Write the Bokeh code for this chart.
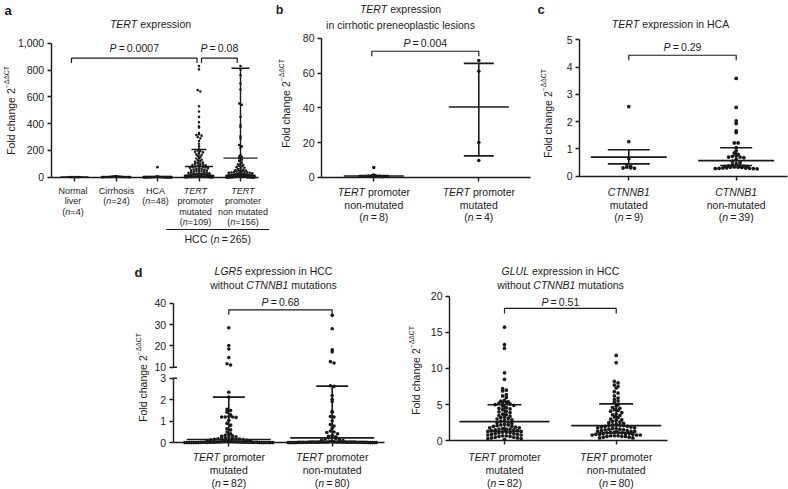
import math
from bokeh.plotting import figure
from bokeh.layouts import row, column
from bokeh.models import Label, FixedTicker, NumeralTickFormatter, Range1d
from bokeh.embed import file_html
from bokeh.resources import INLINE

# ===================== DATA =====================
# ---- panel a : TERT expression ----
a_cats = [1, 2, 3, 4, 5]
a_normal = [1.5, 1.0, 0.8, 0.5]
a_cirrhosis = [8, 6, 5, 4.5, 4, 3.5, 3, 3, 2.5, 2.5, 2, 2, 2, 1.5, 1.5, 1.5, 1.2, 1, 1, 1, 0.8, 0.6, 0.5, 0.4]
a_hca = [75, 4.0, 3.5, 3.0, 2.8, 2.5, 2.2, 2.0, 2.0, 1.8, 1.6, 1.5, 1.4, 1.3, 1.2, 1.2, 1.1, 1.0, 1.0, 0.9,
         0.9, 0.8, 0.8, 0.8, 0.7, 0.7, 0.7, 0.6, 0.6, 0.6, 0.5, 0.5, 0.5, 0.5, 0.4, 0.4, 0.4, 0.4, 0.3, 0.3,
         0.3, 0.3, 0.3, 0.2, 0.2, 0.2, 0.2, 0.2]
a_tert_mut = [830, 805, 650, 640, 530, 490, 450, 410, 380, 370,
              330, 320, 315, 310, 300, 290, 270, 250, 230, 210,
              200, 195, 190, 185, 180, 170, 165, 160, 150, 145,
              140, 130, 125, 120, 115, 110, 105, 100, 100, 95,
              90, 88, 85, 82, 80, 78, 75, 72, 70, 68,
              65, 62, 60, 58, 55, 52, 50, 48, 45, 42,
              40, 38, 36, 34, 32, 30, 28, 26, 24, 22,
              20, 19, 18, 17, 16, 15, 14, 13, 12, 11,
              10, 9, 8, 7, 6, 5, 5, 4, 4, 3,
              3, 3, 2, 2, 2, 2, 1, 1, 1, 1,
              1, 1, 0.5, 0.5, 0.5, 0.5, 0.5, 0.5, 0.5]
a_tert_non = [830, 805, 760, 700, 655, 550, 540, 450, 390, 375,
              305, 290, 240, 230, 220, 165, 155, 150, 140, 130,
              120, 110, 100, 95, 90, 85, 80, 75, 70, 65,
              60, 55, 52, 50, 48, 45, 42, 40, 38, 36,
              35, 33, 32, 30, 29, 28, 27, 26, 25, 24,
              23, 22, 21, 20, 20, 19, 18, 18, 17, 16,
              16, 15, 15, 14, 14, 13, 13, 12, 12, 11,
              11, 10, 10, 10, 9, 9, 9, 8, 8, 8,
              7, 7, 7, 7, 6, 6, 6, 6, 5, 5,
              5, 5, 5, 4, 4, 4, 4, 4, 3.5, 3.5,
              3.5, 3.5, 3, 3, 3, 3, 3, 2.5, 2.5, 2.5,
              2.5, 2.5, 2, 2, 2, 2, 2, 2, 1.8, 1.8,
              1.6, 1.6, 1.5, 1.5, 1.4, 1.4, 1.3, 1.2, 1.2, 1.1,
              1.0, 1.0, 1.0, 0.9, 0.9, 0.9, 0.8, 0.8, 0.8, 0.7,
              0.7, 0.7, 0.6, 0.6, 0.6, 0.5, 0.5, 0.5, 0.4, 0.4,
              0.4, 0.3, 0.3, 0.3, 0.2, 0.2]
a_center = [1.0, 2.5, 1.5, 80, 142]
a_low = [0.5, 1.5, 1.0, 25, 5]
a_high = [1.5, 3.5, 2.0, 207, 813]
a_yticks = [0, 200, 400, 600, 800, 1000]
a_brackets = [(1, 4, 889), (4, 5, 889)]
a_pvalues = ["0.0007", "0.08"]

# ---- panel b : cirrhotic preneoplastic lesions ----
b_cats = [1, 2]
b_non = [5.6, 1.2, 0.9, 0.8, 0.6, 0.5, 0.4, 0.3]
b_mut = [67.2, 61.0, 20.0, 9.6]
b_center = [0.7, 40.5]
b_low = [0.5, 12.3]
b_high = [0.9, 65.6]
b_yticks = [0, 20, 40, 60, 80]
b_bracket = 72.6
b_pvalue = "0.004"

# ---- panel c : TERT expression in HCA ----
c_cats = [1, 2]
c_mut = [2.55, 1.27, 0.65, 0.42, 0.36, 0.33, 0.3, 0.29, 0.31]
c_non = [3.58, 2.52, 2.03, 1.93, 1.66, 1.6, 1.22, 1.22, 1.05,
         0.93, 0.85, 0.8, 0.75, 0.73, 0.7, 0.7, 0.68, 0.62, 0.55,
         0.5, 0.45, 0.42, 0.4, 0.38, 0.37, 0.36, 0.35, 0.34, 0.33,
         0.33, 0.32, 0.31, 0.3, 0.3, 0.29, 0.29, 0.28, 0.28, 0.27]
c_center = [0.70, 0.57]
c_low = [0.45, 0.39]
c_high = [0.97, 1.04]
c_yticks = [0, 1, 2, 3, 4, 5]
c_bracket = 4.43
c_pvalue = "0.29"

# ---- panel d left : LGR5 (broken axis) ----
d_cats = [1, 2]
lgr5_mut = [28.5, 20.2, 18.5, 14.5, 11.6, 11.0,
            2.35, 2.12, 1.55, 1.5, 1.42, 1.3, 1.22, 1.2, 1.2, 1.18,
            1.2, 1.05, 0.9, 0.82, 0.65, 0.6, 0.5, 0.42, 0.38, 0.35,
            0.32, 0.3, 0.28, 0.25, 0.22, 0.2, 0.2, 0.18, 0.18, 0.17,
            0.16, 0.15, 0.14, 0.12, 0.1, 0.1, 0.08, 0.08, 0.07, 0.06,
            0.06, 0.05, 0.05, 0.05, 0.04, 0.04, 0.04, 0.04, 0.03, 0.03,
            0.03, 0.03, 0.03, 0.03, 0.02, 0.02, 0.02, 0.02, 0.02, 0.02,
            0.02, 0.02, 0.01, 0.01, 0.01, 0.01, 0.01, 0.01, 0.01, 0.01,
            0.01, 0.01, 0.01, 0.01, 0.01, 0.01]
lgr5_non = [34.3, 28.0, 18.2, 17.2, 12.6, 12.0,
            2.65, 2.62, 2.2, 2.02, 1.92, 1.45, 1.42, 1.22, 1.2, 1.02,
            0.85, 0.78, 0.68, 0.55, 0.5, 0.48, 0.42, 0.35, 0.3, 0.28,
            0.25, 0.22, 0.2, 0.18, 0.15, 0.12, 0.1, 0.08, 0.06, 0.05,
            0.04, 0.04, 0.04, 0.04, 0.04, 0.04, 0.04, 0.04, 0.04, 0.04,
            0.03, 0.03, 0.03, 0.03, 0.03, 0.03, 0.03, 0.03, 0.03, 0.03,
            0.03, 0.03, 0.02, 0.02, 0.02, 0.02, 0.02, 0.02, 0.02, 0.02,
            0.02, 0.02, 0.02, 0.02, 0.01, 0.01, 0.01, 0.01, 0.01, 0.01,
            0.01, 0.01, 0.01, 0.01]
lgr5_center = [0.15, 0.23]
lgr5_low = [0.02, 0.02]
lgr5_high = [2.12, 2.63]
lgr5_upper_ticks = [10, 20, 30, 40]
lgr5_lower_ticks = [0, 1, 2, 3]
lgr5_bracket = 36.9
lgr5_pvalue = "0.68"

# ---- panel d right : GLUL ----
glul_mut = [15.7, 13.3, 12.8, 9.4, 8.5, 7.2, 7.0, 6.9, 6.4, 6.2,
            6.0, 5.6, 5.5, 5.4, 5.3, 5.3, 5.2, 5.1, 5.0, 4.9,
            4.8, 4.6, 4.5, 4.3, 4.1, 4.0, 3.9, 3.7, 3.6, 3.5,
            3.4, 3.2, 3.1, 3.0, 2.9, 2.8, 2.7, 2.6, 2.5, 2.4,
            2.3, 2.2, 2.1, 2.0, 2.0, 1.9, 1.8, 1.8, 1.7, 1.6,
            1.6, 1.5, 1.5, 1.4, 1.4, 1.3, 1.3, 1.2, 1.2, 1.1,
            1.1, 1.0, 1.0, 0.9, 0.9, 0.8, 0.8, 0.7, 0.7, 0.6,
            0.6, 0.5, 0.5, 0.4, 0.4, 0.3, 0.3, 0.2, 1.6, 2.2,
            3.3, 4.4]
glul_non = [11.8, 10.8, 8.2, 8.0, 7.7, 7.5, 7.3, 6.8, 6.6, 6.2,
            5.9, 5.7, 5.5, 5.3, 5.0, 4.8, 4.6, 4.5, 4.3, 4.1,
            3.9, 3.7, 3.5, 3.3, 3.2, 3.0, 2.9, 2.8, 2.6, 2.5,
            2.4, 2.3, 2.2, 2.2, 2.1, 2.1, 2.0, 2.0, 1.9, 1.9,
            1.8, 1.8, 1.7, 1.7, 1.6, 1.6, 1.5, 1.5, 1.4, 1.4,
            1.3, 1.3, 1.3, 1.2, 1.2, 1.1, 1.1, 1.0, 1.0, 1.0,
            0.9, 0.9, 0.9, 0.8, 0.8, 0.8, 0.7, 0.7, 0.7, 0.6,
            0.6, 0.6, 0.5, 0.5, 0.4, 0.4, 2.7, 3.6, 4.2, 1.2]
glul_center = [2.65, 2.1]
glul_low = [1.3, 1.1]
glul_high = [4.98, 5.1]
glul_yticks = [0, 5, 10, 15, 20]
glul_bracket = 18.3
glul_pvalue = "0.51"

# ===================== HELPERS =====================
FONT = "Liberation Sans"
INK = "#1a1a1a"

AW = {' ': 278, '\u2009': 200, '(': 333, ')': 333, ',': 278, '-': 333, '.': 278,
      '=': 584, '\u2212': 584, '\u0394': 668}
for _d in "0123456789":
    AW[_d] = 556
AW.update(dict(A=667, B=667, C=722, D=722, E=667, F=611, G=778, H=722, I=278, J=500, K=667,
               L=556, M=833, N=722, O=778, P=667, Q=778, R=722, S=667, T=611, U=722, V=667,
               W=944, X=667, Y=667, Z=611))
AW.update(dict(a=556, b=556, c=500, d=556, e=556, f=278, g=556, h=556, i=222, j=222, k=500,
               l=222, m=833, n=556, o=556, p=556, q=556, r=333, s=500, t=278, u=556, v=500,
               w=722, x=500, y=500, z=500))


def text_w(t, size):
    return sum(AW.get(ch, 556) for ch in t) * size / 1000.0


class Geo:
    """Canvas placed at page (left, top); the plot frame fills the whole canvas.
    Data ranges are fixed so that two reference values land on given pixels."""

    def __init__(self, left, top, W, H, xa, pxa, xb, pxb, ya, pya, yb, pyb):
        self.left, self.top, self.W, self.H = left, top, W, H
        kx = (xb - xa) / float(pxb - pxa)
        self.x0 = xa - (pxa - left) * kx
        self.x1 = self.x0 + W * kx
        ky = (yb - ya) / float(pya - pyb)
        self.y0 = ya - (top + H - pya) * ky
        self.y1 = ya + (pya - top) * ky

    def make(self, xaxis=True, yaxis=True):
        p = figure(width=self.W, height=self.H,
                   x_range=Range1d(self.x0, self.x1), y_range=Range1d(self.y0, self.y1),
                   output_backend="svg", toolbar_location=None, title=None,
                   x_axis_location="below" if xaxis else None,
                   y_axis_location="left" if yaxis else None,
                   min_border_left=0, min_border_right=0, min_border_top=0, min_border_bottom=0)
        p.outline_line_color = None
        p.grid.visible = False
        p.background_fill_color = "white"
        p.border_fill_color = "white"
        for ax in p.axis:
            ax.axis_line_color = INK
            ax.axis_line_width = 1.4
            ax.major_tick_line_color = INK
            ax.major_tick_line_width = 1.4
            ax.major_tick_out = 4
            ax.major_tick_in = 0
            ax.minor_tick_line_color = None
            ax.major_label_standoff = 3
            ax.major_label_text_font = FONT
            ax.major_label_text_font_size = "10.5px"
            ax.major_label_text_color = INK
        for ax in p.xaxis:
            ax.major_label_text_color = None
        return p

    def X(self, px):
        return self.x0 + (px - self.left) * (self.x1 - self.x0) / self.W

    def Y(self, py):
        return self.y0 + (self.top + self.H - py) * (self.y1 - self.y0) / self.H

    def PX(self, x):
        return self.left + (x - self.x0) * self.W / (self.x1 - self.x0)

    def PY(self, y):
        return self.top + self.H - (y - self.y0) * self.H / (self.y1 - self.y0)

    def sx(self, n):
        return n * (self.x1 - self.x0) / self.W

    def sy(self, n):
        return n * (self.y1 - self.y0) / self.H

    def ppu(self):
        return self.H / (self.y1 - self.y0)


def set_axes(p, g, y_px, yticks, x_from=None, x_to=None, xticks=None, fmt=None):
    ya = p.yaxis[0]
    ya.fixed_location = g.X(y_px)
    ya.bounds = (yticks[0], yticks[-1])
    ya.ticker = FixedTicker(ticks=yticks)
    if fmt is not None:
        ya.formatter = fmt
    if xticks is not None:
        xa = p.xaxis[0]
        xa.fixed_location = 0
        xa.bounds = (g.X(x_from), g.X(x_to))
        xa.ticker = FixedTicker(ticks=xticks)


STY = {"n": "normal", "i": "italic", "b": "bold"}


def label(p, g, px, py, text, size, style="n", align="left", angle=0.0):
    p.add_layout(Label(x=g.X(px), y=g.Y(py), text=text, angle=angle,
                       text_font=FONT, text_font_size="%.1fpx" % size,
                       text_font_style=STY[style], text_color=INK,
                       text_align=align, text_baseline="middle"))


def rich(p, g, cx, cy, segs, size, align="center", rot=False):
    items = []
    for s in segs:
        if isinstance(s, str):
            s = (s, "n")
        t, st = s[0], s[1]
        sz = s[2] if len(s) > 2 else size
        rise = s[3] if len(s) > 3 else 0
        items.append((t, st, sz, rise, text_w(t, sz)))
    total = sum(it[4] for it in items)
    pos = {"left": 0.0, "center": -total / 2.0, "right": -total}[align]
    for t, st, sz, rise, w in items:
        # leading spaces are dropped by the renderer: advance past them ourselves
        stripped = t.lstrip(" ")
        lead = text_w(t[:len(t) - len(stripped)], sz)
        shown = stripped.rstrip(" ")
        if shown:
            if rot:
                label(p, g, cx - rise, cy - pos - lead, shown, sz, st, "left", math.pi / 2)
            else:
                label(p, g, cx + pos + lead, cy - rise, shown, sz, st, "left", 0.0)
        pos += w


def swarm(vals, ppu, row_px, dot_px, max_half):
    rows = {}
    for i, v in enumerate(vals):
        r = int(math.floor(v * ppu / row_px + 0.5))
        rows.setdefault(r, []).append(i)
    off = [0.0] * len(vals)
    for idx in rows.values():
        n = len(idx)
        if n < 2:
            continue
        sp = min(dot_px, 2.0 * max_half / (n - 1))
        slots = sorted([(k - (n - 1) / 2.0) * sp for k in range(n)], key=lambda s: (abs(s), s))
        order = sorted(idx, key=lambda i: -vals[i])
        for s, i in zip(slots, order):
            off[i] = s
    return off


def dots(p, g, cat, vals, dot, max_half, row_px=None):
    offs = swarm(vals, g.ppu(), row_px or dot, dot, max_half)
    xs = [cat + g.sx(o) for o in offs]
    p.scatter(xs, vals, size=dot, marker="circle", fill_color=INK, line_color=None)


def errbar(p, g, cat, c, lo, hi, hw_m, hw_c, lw=1.6):
    p.segment(x0=[cat - g.sx(hw_m), cat - g.sx(hw_c), cat - g.sx(hw_c), cat],
              y0=[c, lo, hi, lo],
              x1=[cat + g.sx(hw_m), cat + g.sx(hw_c), cat + g.sx(hw_c), cat],
              y1=[c, lo, hi, hi],
              line_color=INK, line_width=lw)


def bracket(p, g, xa, xb, h, pval, gap=8, drop=5, size=10.5):
    d = g.sy(drop)
    p.line([xa, xa, xb, xb], [h - d, h, h, h - d], line_color=INK, line_width=1.2)
    cx = (g.PX(xa) + g.PX(xb)) / 2.0
    rich(p, g, cx, g.PY(h) - gap, [("P", "i"), ("\u2009=\u2009" + pval, "n")], size)


def ylabel(p, g, cx, cy, size=10.5):
    rich(p, g, cx, cy, [("Fold change 2", "n"), ("\u2212\u0394\u0394CT", "n", 6.8, 4)], size, rot=True)


def nlab(num, eq="\u2009=\u2009"):
    return [("(", "n"), ("n", "i"), (eq + num + ")", "n")]


# ===================== PANEL A =====================
gA = Geo(0, 0, 276, 265, 1, 74, 5, 240, 0, 176.7, 1000, 42.7)
pA = gA.make()
set_axes(pA, gA, 50.7, a_yticks, 50.7, 258, a_cats, NumeralTickFormatter(format="0,0"))

for cat, vals in zip(a_cats, [a_normal, a_cirrhosis, a_hca, a_tert_mut, a_tert_non]):
    dots(pA, gA, cat, vals, 2.6, 14, row_px=2.6)
for cat, c, lo, hi, hm, hc in zip(a_cats, a_center, a_low, a_high, [14, 14, 14, 14, 17], [7, 7, 7, 7.5, 9]):
    errbar(pA, gA, cat, c, lo, hi, hm, hc, lw=1.4)
(i1, j1, h1), (i2, j2, h2) = a_brackets
bracket(pA, gA, i1 - gA.sx(3), j1 - gA.sx(2), h1, a_pvalues[0], gap=10)
bracket(pA, gA, i2 + gA.sx(2.5), j2 - gA.sx(3.3), h2, a_pvalues[1], gap=10)

label(pA, gA, 4, 10, "a", 13, "b")
rich(pA, gA, 150, 23, [("TERT", "i"), (" expression", "n")], 10.5)
ylabel(pA, gA, 10, 110)
a_rows = [190, 200.5, 211, 221.5]
a_nudge = [-1.5, 0.5, -2, -3.5, 2.5]   # small text nudges, px
a_labels = [
    [["Normal"], ["liver"], nlab("4", "=")],
    [["Cirrhosis"], nlab("24", "=")],
    [["HCA"], nlab("48", "=")],
    [[("TERT", "i")], ["promoter"], ["mutated"], nlab("109", "=")],
    [[("TERT", "i")], ["promoter"], ["non mutated"], nlab("156", "=")],
]
for cat, nd, lines in zip(a_cats, a_nudge, a_labels):
    for ry, segs in zip(a_rows, lines):
        rich(pA, gA, gA.PX(cat) + nd, ry, segs, 9.0)
hcc_y = gA.Y(229)
hx0 = 4 - gA.sx(32.7)
hx1 = 5 + gA.sx(28.6)
pA.segment(x0=[hx0], y0=[hcc_y], x1=[hx1], y1=[hcc_y], line_color=INK, line_width=1.2)
rich(pA, gA, (gA.PX(hx0) + gA.PX(hx1)) / 2, 238.5, [("HCC (", "n"), ("n", "i"), ("\u2009=\u2009265)", "n")], 10.5)

# ===================== PANEL B =====================
gB = Geo(276, 0, 258, 265, 1, 373.3, 2, 478.3, 0, 176.7, 80, 37.9)
pB = gB.make()
set_axes(pB, gB, 321, b_yticks, 321, 530, b_cats)
dots(pB, gB, 1, b_non, 3.6, 20)
dots(pB, gB, 2, b_mut, 3.6, 20)
for cat, c, lo, hi in zip(b_cats, b_center, b_low, b_high):
    errbar(pB, gB, cat, c, lo, hi, 30, 15)
bracket(pB, gB, 1 - gB.sx(2), 2, b_bracket, b_pvalue, gap=8)
label(pB, gB, 275, 9, "b", 13, "b")
rich(pB, gB, 400, 8.5, [("TERT", "i"), (" expression", "n")], 10.5)
rich(pB, gB, 400, 24, ["in cirrhotic preneoplastic lesions"], 10.5)
ylabel(pB, gB, 285, 103)
b_rows = [191.7, 204, 216.5]
b_labels = [
    [[("TERT", "i"), (" promoter", "n")], ["non-mutated"], nlab("8")],
    [[("TERT", "i"), (" promoter", "n")], ["mutated"], nlab("4")],
]
for cat, lines in zip(b_cats, b_labels):
    for ry, segs in zip(b_rows, lines):
        rich(pB, gB, gB.PX(cat), ry, segs, 10.5)

# ===================== PANEL C =====================
gC = Geo(534, 0, 254, 265, 1, 628.3, 2, 735.7, 0, 175.7, 5, 39.2)
pC = gC.make()
set_axes(pC, gC, 579, c_yticks, 579, 786.5, c_cats)
dots(pC, gC, 1, c_mut, 3.8, 38)
dots(pC, gC, 2, c_non, 3.8, 38)
for cat, c, lo, hi, hc in zip(c_cats, c_center, c_low, c_high, [21, 16]):
    errbar(pC, gC, cat, c, lo, hi, 38, hc)
bracket(pC, gC, 1, 2, c_bracket, c_pvalue, gap=8.4)
label(pC, gC, 537, 9, "c", 13, "b")
rich(pC, gC, 670, 23, [("TERT", "i"), (" expression in HCA", "n")], 10.5)
ylabel(pC, gC, 547, 113)
c_labels = [
    [[("CTNNB1", "i")], ["mutated"], nlab("9")],
    [[("CTNNB1", "i")], ["non-mutated"], nlab("39")],
]
for cat, lines in zip(c_cats, c_labels):
    for ry, segs in zip(b_rows, lines):
        rich(pC, gC, gC.PX(cat), ry, segs, 10.5)

# ===================== PANEL D (label strip) =====================
g0 = Geo(0, 265, 150, 224, 0, 0, 1, 150, 0, 489, 1, 265)
p0 = g0.make(xaxis=False, yaxis=False)
label(p0, g0, 134, 272, "d", 13, "b")
ylabel(p0, g0, 142, 377)

# ===================== PANEL D : LGR5 (broken axis) =====================
gU = Geo(150, 265, 240, 108, 1, 228.3, 2, 331.7, 10, 366.7, 40, 302.7)
pU = gU.make(xaxis=False)
set_axes(pU, gU, 172.7, lgr5_upper_ticks)
gL = Geo(150, 373, 240, 116, 1, 228.3, 2, 331.7, 0, 442.3, 3, 377.7)
pL = gL.make()
set_axes(pL, gL, 172.7, lgr5_lower_ticks, 172.7, 384, d_cats)
# small break marks where the axis is interrupted
pU.segment(x0=[gU.X(172.7)], y0=[lgr5_upper_ticks[0]], x1=[gU.X(176.5)], y1=[lgr5_upper_ticks[0]],
           line_color=INK, line_width=1.4)
pL.segment(x0=[gL.X(172.7)], y0=[lgr5_lower_ticks[-1]], x1=[gL.X(176.5)], y1=[lgr5_lower_ticks[-1]],
           line_color=INK, line_width=1.4)

for cat, vals in zip(d_cats, [lgr5_mut, lgr5_non]):
    hi_vals = [v for v in vals if v > 3]
    lo_vals = [v for v in vals if v <= 3]
    dots(pU, gU, cat, hi_vals, 3.6, 44)
    dots(pL, gL, cat, lo_vals, 3.6, 44)
for cat, c, lo, hi in zip(d_cats, lgr5_center, lgr5_low, lgr5_high):
    errbar(pL, gL, cat, c, lo, hi, 42, 16)
bracket(pU, gU, 1, 2, lgr5_bracket, lgr5_pvalue, gap=7.6)
rich(pU, gU, 273, 270, [("LGR5", "i"), (" expression in HCC", "n")], 10.5)
rich(pU, gU, 273, 284, [("without ", "n"), ("CTNNB1", "i"), (" mutations", "n")], 10.5)
d_rows = [456.5, 469.5, 482]
d_labels = [
    [[("TERT", "i"), (" promoter", "n")], ["mutated"], nlab("82")],
    [[("TERT", "i"), (" promoter", "n")], ["non-mutated"], nlab("80")],
]
for cat, lines in zip(d_cats, d_labels):
    for ry, segs in zip(d_rows, lines):
        rich(pL, gL, gL.PX(cat), ry, segs, 10.5)

# ===================== PANEL D : GLUL =====================
gE = Geo(390, 265, 398, 224, 1, 504, 2, 615.7, 0, 440.3, 20, 295.6)
pE = gE.make()
set_axes(pE, gE, 449, glul_yticks, 449, 667.3, d_cats)
dots(pE, gE, 1, glul_mut, 3.7, 45)
dots(pE, gE, 2, glul_non, 3.7, 45)
for cat, c, lo, hi in zip(d_cats, glul_center, glul_low, glul_high):
    errbar(pE, gE, cat, c, lo, hi, 45, 17)
bracket(pE, gE, 1, 2, glul_bracket, glul_pvalue, gap=6.8)
rich(pE, gE, 560, 270, [("GLUL", "i"), (" expression in HCC", "n")], 10.5)
rich(pE, gE, 560, 284, [("without ", "n"), ("CTNNB1", "i"), (" mutations", "n")], 10.5)
ylabel(pE, gE, 415, 370)
for cat, lines in zip(d_cats, d_labels):
    for ry, segs in zip(d_rows, lines):
        rich(pE, gE, gE.PX(cat), ry, segs, 10.5)

layout = column(row(pA, pB, pC), row(p0, column(pU, pL), pE))
open("out.html", "w").write(file_html(layout, INLINE))
